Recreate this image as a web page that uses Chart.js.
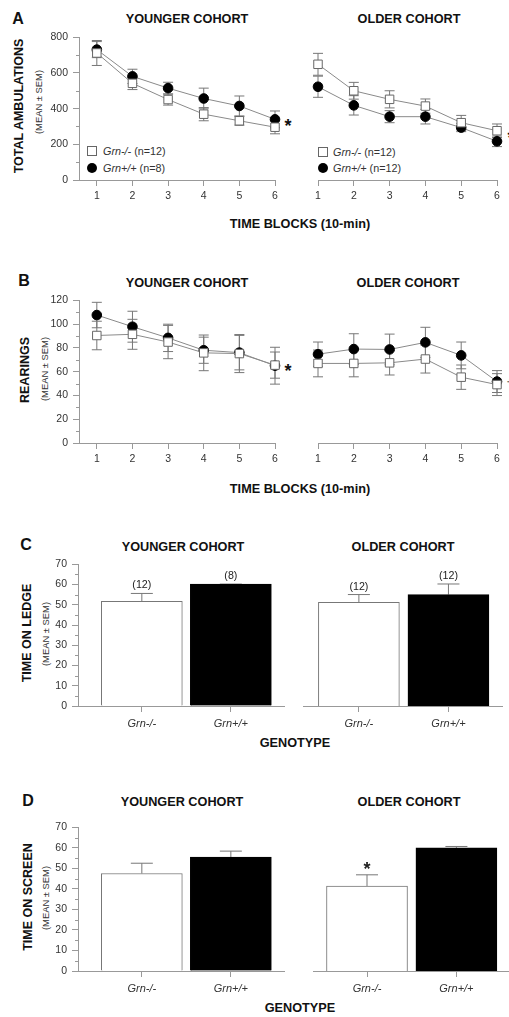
<!DOCTYPE html>
<html>
<head>
<meta charset="utf-8">
<script src="https://cdn.jsdelivr.net/npm/chart.js@4.4.0/dist/chart.umd.min.js"></script>
<style>
  body { margin: 0; width: 509px; height: 1017px; position: relative; overflow: hidden; background: #fff;
         font-family: Arial, "Liberation Sans", Helvetica, sans-serif; color: #111; }
  canvas { position: absolute; }
  .t { position: absolute; white-space: nowrap; transform: translate(-50%, -50%); }
  .letter { font-weight: bold; font-size: 16px; }
  .title { font-weight: bold; font-size: 12.7px; }
  .ylab { font-weight: bold; font-size: 12.5px; transform: translate(-50%, -50%) rotate(-90deg); }
  .ysub { font-size: 9.4px; color: #333; transform: translate(-50%, -50%) rotate(-90deg); }
  .star { font-size: 18px; font-weight: bold; color: #111; }
  .leg { position: absolute; font-size: 10.8px; color: #333; white-space: nowrap; transform: translateY(-50%); }
  .sq { position: absolute; width: 8px; height: 8px; border: 1px solid #666; background: #fff; transform: translate(-50%, -50%); }
  .dot { position: absolute; width: 10px; height: 10px; border-radius: 50%; background: #000; transform: translate(-50%, -50%); }
</style>
</head>
<body>

<!-- panel letters, titles, axis titles -->
<div class="t letter" style="left:18px;top:19px">A</div>
<div class="t letter" style="left:24px;top:281px">B</div>
<div class="t letter" style="left:26px;top:545px">C</div>
<div class="t letter" style="left:28px;top:801px">D</div>

<div class="t title" style="left:187px;top:19px">YOUNGER COHORT</div>
<div class="t title" style="left:409px;top:19px">OLDER COHORT</div>
<div class="t title" style="left:187px;top:283px">YOUNGER COHORT</div>
<div class="t title" style="left:408px;top:283px">OLDER COHORT</div>
<div class="t title" style="left:183px;top:547px">YOUNGER COHORT</div>
<div class="t title" style="left:403px;top:547px">OLDER COHORT</div>
<div class="t title" style="left:182px;top:802px">YOUNGER COHORT</div>
<div class="t title" style="left:409px;top:802px">OLDER COHORT</div>

<div class="t ylab" style="left:19px;top:106px">TOTAL AMBULATIONS</div>
<div class="t ysub" style="left:38px;top:102px">(MEAN ± SEM)</div>
<div class="t ylab" style="left:25px;top:370px">REARINGS</div>
<div class="t ysub" style="left:44px;top:369px">(MEAN ± SEM)</div>
<div class="t ylab" style="left:27px;top:633px">TIME ON LEDGE</div>
<div class="t ysub" style="left:45px;top:634px">(MEAN ± SEM)</div>
<div class="t ylab" style="left:28px;top:897px">TIME ON SCREEN</div>
<div class="t ysub" style="left:45px;top:898px">(MEAN ± SEM)</div>

<div class="t title" style="left:300px;top:224px">TIME BLOCKS (10-min)</div>
<div class="t title" style="left:300px;top:489px">TIME BLOCKS (10-min)</div>
<div class="t title" style="left:295px;top:743px">GENOTYPE</div>
<div class="t title" style="left:300px;top:1008px">GENOTYPE</div>

<!-- significance marks beside the last time block -->
<div class="t star" style="left:288px;top:126px">*</div>
<div class="t star" style="left:511px;top:138px">*</div>
<div class="t star" style="left:288px;top:371px">*</div>
<div class="t" style="left:510px;top:383px;font-size:13px;color:#333">†</div>

<!-- legends -->
<div class="sq" style="left:92px;top:151px"></div>
<div class="leg" style="left:103px;top:151px"><i>Grn-/-</i> (n=12)</div>
<div class="dot" style="left:92px;top:168px"></div>
<div class="leg" style="left:103px;top:168px"><i>Grn+/+</i> (n=8)</div>
<div class="sq" style="left:323px;top:152px"></div>
<div class="leg" style="left:333px;top:152px"><i>Grn-/-</i> (n=12)</div>
<div class="dot" style="left:323px;top:168px"></div>
<div class="leg" style="left:333px;top:168px"><i>Grn+/+</i> (n=12)</div>

<canvas id="ambYoung" width="245" height="180" style="left:40px;top:26px"></canvas>
<canvas id="ambOld" width="201" height="180" style="left:308px;top:26px"></canvas>
<canvas id="rearYoung" width="245" height="180" style="left:40px;top:289px"></canvas>
<canvas id="rearOld" width="201" height="180" style="left:308px;top:289px"></canvas>
<canvas id="ledgeYoung" width="248" height="179" style="left:40px;top:553px"></canvas>
<canvas id="ledgeOld" width="211" height="179" style="left:298px;top:553px"></canvas>
<canvas id="screenYoung" width="248" height="181" style="left:40px;top:816px"></canvas>
<canvas id="screenOld" width="204" height="181" style="left:305px;top:816px"></canvas>

<script>
// Data
const blocks = [1, 2, 3, 4, 5, 6];

const ambYoungKo = [712, 542, 451, 369, 332, 296];
const ambYoungKoSem = [70, 35, 31, 37, 25, 37];
const ambYoungWt = [731, 581, 515, 457, 415, 340];
const ambYoungWtSem = [45, 40, 33, 58, 56, 47];
const ambOldKo = [634, 489, 442, 405, 314, 270];
const ambOldKoSem = [60, 46, 47, 39, 40, 37];
const ambOldWt = [511, 409, 347, 347, 287, 212];
const ambOldWtSem = [58, 53, 33, 40, 22, 29];

const rearYoungKo = [90.4, 91.4, 84.9, 75.8, 75.2, 65.5];
const rearYoungKoSem = [12, 12.6, 14, 15, 16, 11];
const rearYoungWt = [107.6, 97.8, 88.4, 78, 76, 65];
const rearYoungWtSem = [10.7, 13, 11.5, 11, 14.5, 15.5];
const rearOldKo = [65.4, 65.4, 65.9, 69, 54.1, 48];
const rearOldKoSem = [11, 11, 10, 11.5, 10, 9];
const rearOldWt = [73, 77.2, 76.9, 82.7, 72, 50.5];
const rearOldWtSem = [10, 12.6, 12.6, 12.4, 11, 9];

const genotypes = ["Grn-/-", "Grn+/+"];
const ledgeYoung = [51.7, 60.2];
const ledgeYoungSem = [3.9, 0];
const ledgeYoungN = ["(12)", "(8)"];
const ledgeOld = [50, 53.8];
const ledgeOldSem = [3.8, 5.1];
const ledgeOldN = ["(12)", "(12)"];
const screenYoung = [47.5, 55.5];
const screenYoungSem = [5, 2.9];
const screenOld = [40.4, 58.7];
const screenOldSem = [5.4, 0.6];
const screenOldMarks = ["*", ""];

Chart.defaults.font.family = 'Arial, "Liberation Sans", Helvetica, sans-serif';
Chart.defaults.color = "#333";
Chart.defaults.animation = false;

const axisGrey = "#999";

// error bars (drawn under the markers)
const errorBars = {
    id: "errorBars",
    beforeDatasetsDraw(chart) {
        const { ctx, scales: { x, y } } = chart;
        ctx.save();
        ctx.strokeStyle = "#777";
        ctx.lineWidth = 1;
        chart.data.datasets.forEach(ds => {
            if (!ds.sem) return;
            ds.data.forEach((p, j) => {
                const px = x.getPixelForValue(p.x);
                const top = y.getPixelForValue(p.y + ds.sem[j]);
                const bot = y.getPixelForValue(ds.upOnly ? p.y : p.y - ds.sem[j]);
                const cap = ds.capWidth / 2;
                ctx.beginPath();
                ctx.moveTo(px, top); ctx.lineTo(px, bot);
                ctx.moveTo(px - cap, top); ctx.lineTo(px + cap, top);
                if (!ds.upOnly) { ctx.moveTo(px - cap, bot); ctx.lineTo(px + cap, bot); }
                ctx.stroke();
            });
        });
        ctx.restore();
    },
    afterDatasetsDraw(chart) {
        // text notes above the error caps: group sizes or significance
        const { ctx, scales: { x, y } } = chart;
        chart.data.datasets.forEach(ds => {
            if (!ds.notes) return;
            ctx.save();
            ctx.fillStyle = ds.noteColor;
            ctx.font = ds.noteFont;
            ctx.textAlign = "center";
            ctx.textBaseline = "alphabetic";
            ds.data.forEach((p, j) => {
                if (!ds.notes[j]) return;
                ctx.fillText(ds.notes[j], x.getPixelForValue(p.x), y.getPixelForValue(p.y + ds.sem[j]) - ds.noteGap);
            });
            ctx.restore();
        });
    }
};

// short minor ticks on the y axis
const minorTicks = {
    id: "minorTicks",
    afterDraw(chart, args, opts) {
        const y = chart.scales.y;
        if (!opts.step || !y.options.display) return;
        const ctx = chart.ctx;
        const left = Math.round(chart.chartArea.left) + 0.5;
        ctx.save();
        ctx.strokeStyle = axisGrey;
        ctx.lineWidth = 1;
        for (let v = y.min; v <= y.max; v += opts.step) {
            if (v % opts.major === 0) continue;
            const py = Math.round(y.getPixelForValue(v)) + 0.5;
            ctx.beginPath();
            ctx.moveTo(left - 3.5, py);
            ctx.lineTo(left, py);
            ctx.stroke();
        }
        ctx.restore();
    }
};

function yAxis(show, max, step, width) {
    return {
        display: show,
        min: 0,
        max: max,
        ticks: { stepSize: step, color: "#333", font: { size: 10.5 }, padding: 5 },
        grid: { drawOnChartArea: false, tickLength: 6, color: axisGrey },
        border: { color: axisGrey },
        afterFit: s => { s.width = show ? width : 0; }
    };
}

function xAxis(min, max, values, labels, italic) {
    return {
        type: "linear",
        min: min,
        max: max,
        offset: false,
        afterBuildTicks: s => { s.ticks = values.map(v => ({ value: v })); },
        ticks: {
            autoSkip: false,
            maxRotation: 0,
            color: "#333",
            padding: italic ? 5 : 4,
            font: { size: italic ? 11 : 10.5, style: italic ? "italic" : "normal" },
            callback: v => labels ? labels[v - 1] : v
        },
        grid: { drawOnChartArea: false, tickLength: 6, color: axisGrey, offset: false },
        border: { color: axisGrey },
        afterFit: s => { s.height = 26; }
    };
}

function points(ys) {
    return blocks.map((b, i) => ({ x: b, y: ys[i] }));
}

function lineChart(id, ko, koSem, wt, wtSem, showY, xMin, yMax, yStep, minor, padding) {
    return new Chart(document.getElementById(id), {
        type: "line",
        data: {
            datasets: [
                {
                    data: points(ko), sem: koSem, capWidth: 10,
                    borderColor: "#8a8a8a", borderWidth: 1, tension: 0, clip: false,
                    pointStyle: "rect", pointRadius: 6, pointBackgroundColor: "#fff",
                    pointBorderColor: "#666", pointBorderWidth: 1
                },
                {
                    data: points(wt), sem: wtSem, capWidth: 10,
                    borderColor: "#8a8a8a", borderWidth: 1, tension: 0, clip: false,
                    pointStyle: "circle", pointRadius: 4.8, pointBackgroundColor: "#000",
                    pointBorderColor: "#000", pointBorderWidth: 1
                }
            ]
        },
        options: {
            responsive: false,
            devicePixelRatio: 1,
            layout: { padding: padding },
            plugins: { legend: { display: false }, tooltip: { enabled: false }, minorTicks: { step: minor, major: yStep } },
            scales: { x: xAxis(xMin, 6, blocks, null, false), y: yAxis(showY, yMax, yStep, 39) }
        },
        plugins: [errorBars, minorTicks]
    });
}

function barChart(id, vals, sem, notes, noteFont, noteGap, showY, xMin, xMax, padding) {
    return new Chart(document.getElementById(id), {
        type: "bar",
        data: {
            datasets: [{
                data: vals.map((v, i) => ({ x: i + 1, y: v })),
                sem: sem, upOnly: true, capWidth: 22,
                notes: notes, noteFont: noteFont, noteGap: noteGap, noteColor: "#222",
                backgroundColor: ["#fff", "#000"],
                borderColor: ["#777", "#000"],
                borderWidth: 1,
                barThickness: 81
            }]
        },
        options: {
            responsive: false,
            devicePixelRatio: 1,
            layout: { padding: padding },
            plugins: { legend: { display: false }, tooltip: { enabled: false }, minorTicks: { step: 5, major: 10 } },
            scales: { x: xAxis(xMin, xMax, [1, 2], genotypes, true), y: yAxis(showY, 70, 10, 38) }
        },
        plugins: [errorBars, minorTicks]
    });
}

lineChart("ambYoung", ambYoungKo, ambYoungKoSem, ambYoungWt, ambYoungWtSem, true, 0.5, 800, 200, 100,
    { top: 8, left: 0, right: 10, bottom: 0 });
lineChart("ambOld", ambOldKo, ambOldKoSem, ambOldWt, ambOldWtSem, false, 1, 800, 200, 100,
    { top: 8, left: 10, right: 12, bottom: 0 });
lineChart("rearYoung", rearYoungKo, rearYoungKoSem, rearYoungWt, rearYoungWtSem, true, 0.5, 120, 20, 10,
    { top: 8, left: 0, right: 10, bottom: 0 });
lineChart("rearOld", rearOldKo, rearOldKoSem, rearOldWt, rearOldWtSem, false, 1, 120, 20, 10,
    { top: 8, left: 10, right: 12, bottom: 0 });

barChart("ledgeYoung", ledgeYoung, ledgeYoungSem, ledgeYoungN, "10.7px Arial, 'Liberation Sans'", 5, true, 0.283, 2.597,
    { top: 8, left: 0, right: 4, bottom: 0 });
barChart("ledgeOld", ledgeOld, ledgeOldSem, ledgeOldN, "10.7px Arial, 'Liberation Sans'", 5, false, 0.376, 2.598,
    { top: 8, left: 5, right: 7, bottom: 0 });
barChart("screenYoung", screenYoung, screenYoungSem, null, "", 0, true, 0.283, 2.597,
    { top: 8, left: 0, right: 4, bottom: 0 });
barChart("screenOld", screenOld, screenOldSem, screenOldMarks, "bold 18px Arial, 'Liberation Sans'", 0, false, 0.396, 2.577,
    { top: 8, left: 8, right: 1, bottom: 0 });
</script>
</body>
</html>
